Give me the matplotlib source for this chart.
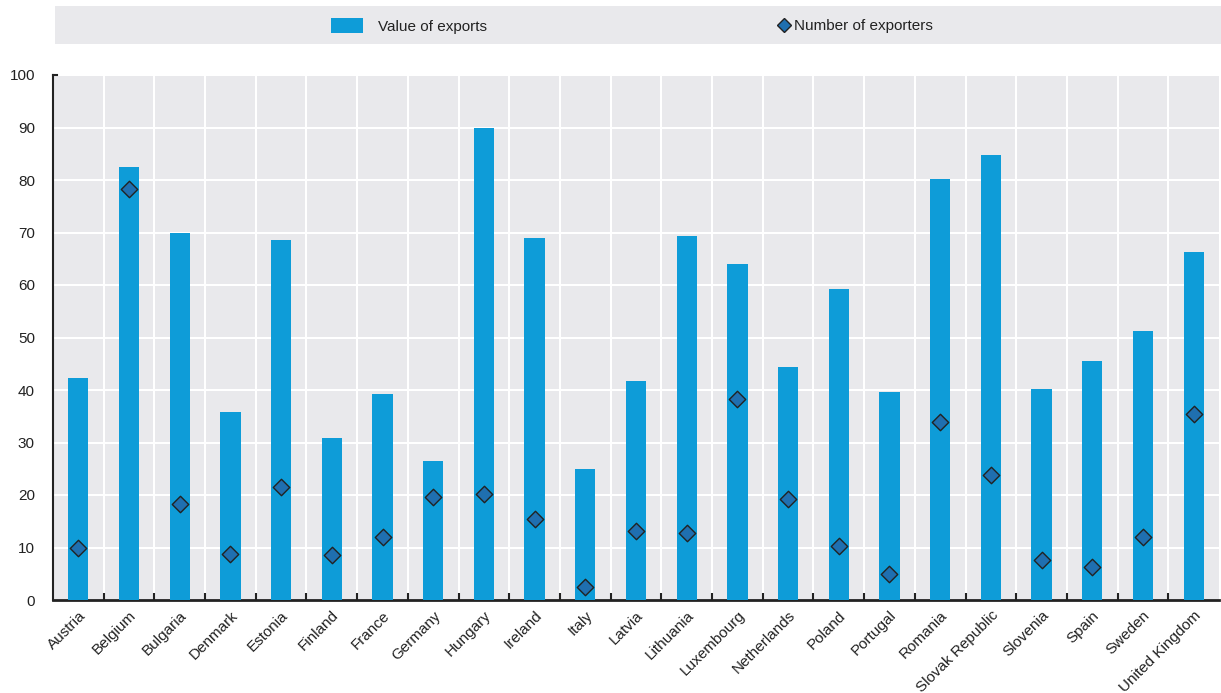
import matplotlib
matplotlib.use("Agg")
import matplotlib.pyplot as plt
from matplotlib.patches import Rectangle
from matplotlib.lines import Line2D
import numpy as np

plt.rcParams['font.family'] = ['Liberation Sans', 'DejaVu Sans']

countries = ["Austria", "Belgium", "Bulgaria", "Denmark", "Estonia", "Finland", "France",
             "Germany", "Hungary", "Ireland", "Italy", "Latvia", "Lithuania", "Luxembourg",
             "Netherlands", "Poland", "Portugal", "Romania", "Slovak Republic", "Slovenia",
             "Spain", "Sweden", "United Kingdom"]
value_of_exports = [42.3, 82.5, 69.9, 35.8, 68.6, 30.8, 39.2, 26.5, 90.0, 68.9, 24.9, 41.7,
                    69.3, 64.0, 44.4, 59.2, 39.7, 80.2, 84.8, 40.2, 45.5, 51.3, 66.2]
number_of_exporters = [10.0, 78.2, 18.3, 8.8, 21.5, 8.6, 12.0, 19.6, 20.1, 15.4, 2.4, 13.1,
                       12.8, 38.2, 19.3, 10.2, 4.95, 34.0, 23.8, 7.7, 6.3, 12.0, 35.4]
yticks = [0, 10, 20, 30, 40, 50, 60, 70, 80, 90, 100]

bar_color = "#0E9CD8"
dia_face = "#1F6FB0"
bg = "#E9E9EC"
txt = "#222222"

fig = plt.figure(figsize=(12.21, 6.93), dpi=100)
ax = fig.add_axes([53/1221, 1-600/693, 1-53/1221-2/1221, (600-75)/693])
ax.set_facecolor(bg)

x = np.arange(len(countries))
ax.bar(x, value_of_exports, width=0.4, color=bar_color, zorder=3)
ax.scatter(x, number_of_exporters, marker='D', s=70, facecolor=dia_face,
           edgecolor=txt, linewidth=1.0, zorder=4)

ax.set_xlim(-0.5, len(countries)-0.5)
ax.set_ylim(0, 100)
ax.set_yticks(yticks)
ax.set_yticklabels([str(t) for t in yticks], fontsize=11, color=txt)

bounds = np.arange(0.5, len(countries)-0.5, 1)
ax.set_xticks(bounds)
ax.set_xticklabels([])
ax.set_xticks(x, minor=True)
ax.set_xticklabels(countries, minor=True, rotation=45, ha='right', rotation_mode='anchor',
                   fontsize=11, color=txt)
ax.tick_params(axis='x', which='minor', length=0, pad=6)
ax.tick_params(axis='x', which='major', direction='in', length=5, width=1.5, color=txt)
ax.tick_params(axis='y', direction='in', length=0, pad=13)

for b in bounds:
    ax.axvline(b, color='white', lw=1.5, zorder=1)
for t in yticks[1:]:
    ax.axhline(t, color='white', lw=1.5, zorder=1)

for s in ['top', 'right']:
    ax.spines[s].set_visible(False)
ax.spines['left'].set_color(txt)
ax.spines['left'].set_linewidth(1.5)
ax.spines['bottom'].set_color(txt)
ax.spines['bottom'].set_linewidth(2)
ax.plot([-0.5, -0.43], [100, 100], color=txt, lw=1.5, clip_on=False, zorder=5)

# legend background box
fig.patches.append(Rectangle((55/1221, 1-44/693), 1-55/1221, 38/693, transform=fig.transFigure,
                             facecolor=bg, edgecolor='none', zorder=0))
h1 = Rectangle((0, 0), 1, 1, facecolor=bar_color, edgecolor='none')
h2 = Line2D([], [], marker='D', linestyle='none', markersize=7, markerfacecolor=dia_face,
            markeredgecolor=txt, markeredgewidth=1.0)
fig.legend([h1], ["Value of exports"], loc='center left', bbox_to_anchor=(317/1221, 1-26/693),
           frameon=False, fontsize=11, handlelength=2.1, handleheight=1.1, handletextpad=1.0,
           labelcolor=txt)
fig.legend([h2], ["Number of exporters"], loc='center left', bbox_to_anchor=(763/1221, 1-26/693),
           frameon=False, fontsize=11, handlelength=1.0, handletextpad=0.1, labelcolor=txt)

fig.savefig("out.png", dpi=100)
